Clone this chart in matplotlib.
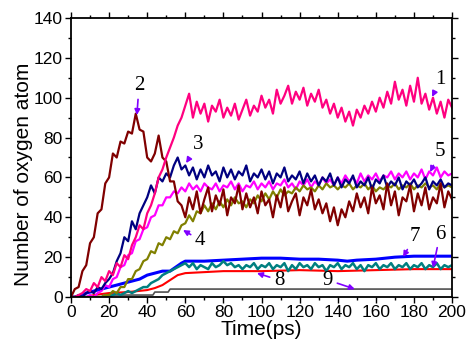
import numpy as np
import matplotlib
matplotlib.use('Agg')
import matplotlib.pyplot as plt
from matplotlib.ticker import MultipleLocator

# time grid (ps) for the sampled curves
t = np.arange(0, 201, 2)

# 1: pink
s1 = [0, 0, 1, 2, 4, 3, 7, 5, 10, 8, 13, 11, 17, 15, 21, 19, 26, 30, 36, 34,
      42, 46, 52, 60, 64, 70, 75, 80, 86, 90,
      96, 102, 90, 98, 92, 97, 88, 96, 93, 99, 90, 95, 91, 97, 89, 94, 99, 91, 96, 93,
      101, 95, 99, 92, 104, 97, 101, 106, 97, 103, 99, 105, 96, 102, 98, 104, 95, 99, 92, 97,
      90, 95, 88, 93, 86, 94, 90, 96, 92, 98, 93, 100, 95, 103, 97, 108, 99, 104, 96, 106,
      98, 110, 97, 102, 94, 100, 92, 98, 90, 99, 95]
# 2: dark red
s2 = [0, 4, 5, 13, 16, 27, 30, 42, 44, 57, 60, 72, 70, 78, 77, 83, 82, 92, 84, 83,
      70, 68, 72, 81, 70, 68, 58, 58, 48, 46,
      40, 50, 44, 53, 42, 49, 55, 43, 51, 46, 54, 41, 50, 47, 56, 44, 52, 45, 50, 42,
      53, 46, 49, 40, 51, 45, 55, 43, 48, 52, 41, 50, 46, 54, 44, 49, 42, 47, 38, 45,
      36, 44, 40, 48, 43, 52, 45, 50, 42, 55, 47, 51, 44, 57, 46, 53, 41, 50, 48, 56,
      43, 52, 46, 55, 44, 50, 47, 57, 45, 53, 49]
# 3: navy
s3 = [0, 0, 1, 0, 2, 3, 2, 5, 4, 7, 9, 12, 18, 22, 30, 28, 38, 34, 42, 46,
      50, 56, 52, 60, 58, 62, 60, 66, 70, 64,
      66, 61, 65, 59, 64, 60, 66, 61, 63, 58, 65, 60, 64, 59, 63, 61, 66, 58, 62, 60,
      64, 59, 63, 57, 62, 60, 65, 58, 61, 59, 63, 57, 62, 58, 61, 56, 60, 58, 62, 56,
      60, 55, 59, 57, 61, 55, 58, 56, 60, 54, 59, 57, 61, 55, 58, 56, 60, 54, 58, 56,
      59, 55, 57, 60, 54, 58, 56, 59, 55, 57, 56]
# 4: olive
s4 = [0, 0, 0, 0, 0, 0, 0, 0,
      0, 1, 1, 3, 2, 5, 5, 9, 9, 13, 14, 18, 19, 23, 22, 27, 26, 30, 29, 33, 32, 36,
      37, 41, 38, 43, 42, 46, 43, 47, 44, 48, 45, 49, 46, 50, 47, 48, 45, 49, 47, 51,
      48, 52, 49, 53, 50, 54, 51, 53, 52, 55, 53, 56, 54, 55, 53, 56, 54, 57, 55, 56,
      54, 56, 55, 57, 54, 56, 55, 57, 54, 56, 53, 55, 54, 56, 55, 57, 54, 56, 55, 57,
      54, 56, 55, 57, 55, 56, 54, 57, 55, 56, 55]
# 5: magenta
s5 = [0, 0, 0, 0, 0,
      1, 0, 2, 3, 6, 5, 9, 10, 15, 16, 21, 22, 28, 29, 34, 35, 40, 41, 46, 46,
      50, 50, 53, 52, 55,
      53, 57, 54, 56, 53, 57, 55, 54, 57, 53, 56, 55, 58, 54, 57, 53, 56, 55, 58, 54,
      57, 55, 58, 54, 57, 56, 59, 55, 57, 54, 58, 56, 59, 55, 58, 56, 60, 57, 59, 56,
      60, 57, 61, 58, 60, 57, 62, 58, 61, 59, 62, 58, 61, 60, 63, 59, 62, 60, 63, 59,
      62, 60, 64, 59, 63, 61, 65, 60, 63, 61, 62]
# 6: teal
s6 = [0, 0, 0, 0, 0, 0, 0, 0,
      0, 1, 0, 1, 2, 1, 2, 3, 2, 3, 4, 5, 5, 7, 8, 9, 11, 12, 13, 14, 15, 16,
      17, 15, 17, 14, 16, 15, 14, 17, 15, 16, 18, 16, 17, 15, 16, 14, 16, 15, 17, 14,
      16, 15, 17, 14, 16, 15, 17, 13, 16, 14, 17, 15, 16, 14, 17, 15, 16, 13, 16, 15,
      17, 14, 16, 15, 17, 14, 16, 13, 16, 15, 17, 14, 16, 15, 17, 14, 16, 15, 17, 14,
      16, 15, 17, 14, 16, 15, 17, 14, 16, 15, 16]
# 7: blue (smooth, own time points)
t7 = [0, 4, 8, 12, 16, 20, 24, 28, 32, 36, 40, 44, 48, 52, 55, 58, 60, 70, 80, 90,
      100, 110, 120, 130, 140, 145, 150, 160, 170, 180, 190, 200]
s7 = [0, 0, 2, 3, 4, 5, 6, 7, 8, 9, 11, 12, 13, 13, 15, 17, 18, 18, 18.5, 19,
      19.5, 19.5, 19, 19, 18.5, 18, 18.5, 19, 20, 20.5, 20.5, 20.5]
# 8: red
t8 = [0, 8, 12, 20, 30, 40, 44, 48, 52, 56, 60, 70, 80, 100, 120, 140, 160, 180, 200]
s8 = [0, 0, 1, 2, 2.5, 3.5, 4.5, 6, 8.5, 11, 12, 12.5, 13, 13, 13.5, 13, 13.5, 14, 14]
# 9: dark grey steps
t9 = [0, 18, 20, 43, 44, 51, 52, 200]
s9 = [0, 0, 1, 1, 2.5, 2.5, 4, 4]

# label text position, arrow tip
labels = ['1', '2', '3', '4', '5', '6', '7', '8', '9']
text_xy = [(194, 109), (35.7, 106), (66.7, 76.3), (67.7, 28.6), (193.7, 72.8),
           (193.7, 31.6), (180.6, 30.6), (109.2, 8.5), (134.9, 8.5)]
tip_xy = [(189.5, 100.4), (34.6, 91.3), (60.4, 67.2), (58.8, 33.6), (188.5, 62.7),
          (190, 14.6), (174.3, 20.1), (97.6, 12.0), (149, 4)]

plt.rcParams['font.family'] = ['Liberation Sans', 'DejaVu Sans']

fig = plt.figure(figsize=(4.67, 3.45), dpi=100)
ax = fig.add_axes([0.152, 0.139, 0.816, 0.809])

ax.plot(t9, s9, c='#505050', lw=1.2)
ax.plot(t8, s8, c='#ff0000', lw=1.5)
ax.plot(t7, s7, c='#0000ff', lw=2.2)
ax.plot(t, s6, c='#008080', lw=1.8)
ax.plot(t, s5, c='#ff00ff', lw=1.6)
ax.plot(t, s4, c='#808000', lw=1.6)
ax.plot(t, s3, c='#000080', lw=1.6)
ax.plot(t, s2, c='#800000', lw=1.6)
ax.plot(t, s1, c='#ff0080', lw=1.6)

for lab, txy, pxy in zip(labels, text_xy, tip_xy):
    ax.annotate(lab, xy=pxy, xytext=txy, ha='center', va='center',
                fontsize=15, family='Liberation Serif',
                arrowprops=dict(arrowstyle='-|>', color='#8000ff', lw=1.2,
                                mutation_scale=8, shrinkA=1, shrinkB=0))

ax.set_xlim(0, 200)
ax.set_ylim(0, 140)
ax.xaxis.set_major_locator(MultipleLocator(20))
ax.xaxis.set_minor_locator(MultipleLocator(10))
ax.yaxis.set_major_locator(MultipleLocator(20))
ax.yaxis.set_minor_locator(MultipleLocator(10))
ax.tick_params(which='both', direction='out', top=True, right=True, labelsize=12.5)
ax.tick_params(which='major', length=4, width=1, pad=2)
ax.tick_params(which='minor', length=2, width=1)
for sp in ax.spines.values():
    sp.set_linewidth(1.3)

ax.set_xlabel('Time(ps)', fontsize=15, labelpad=0)
ax.set_ylabel('Number of oxygen atom', fontsize=15)
ax.yaxis.set_label_coords(-0.10, 0.44)

plt.savefig('out.png', dpi=100)
